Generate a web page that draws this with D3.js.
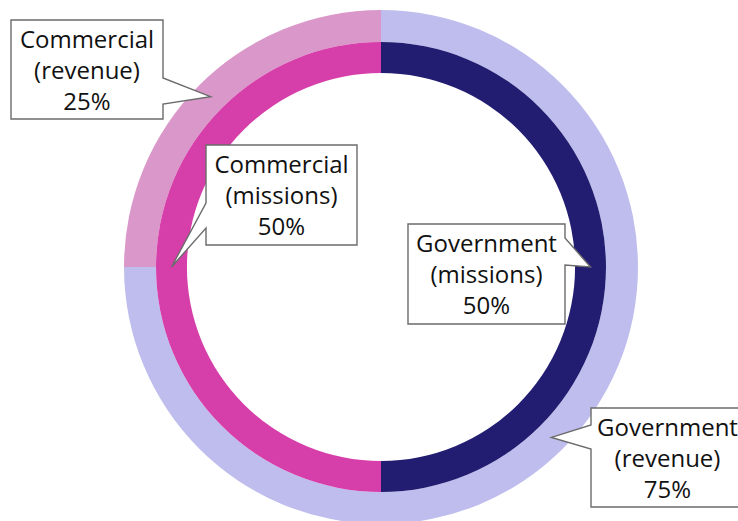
<!DOCTYPE html>
<html>
<head>
<meta charset="utf-8">
<script src="https://cdn.jsdelivr.net/npm/d3@7"></script>
<style>
  body { margin: 0; background: #fff; }
  svg { display: block; }
</style>
</head>
<body>
<svg id="drawing_region"></svg>
<script>
// ring data (outer ring = revenue, inner ring = missions)
const segments = ["Government", "Commercial"];
const revenue = [75, 25];
const missions = [50, 50];
const revenueColors = ["#bebded", "#da97c9"];
const missionColors = ["#231d72", "#d63eaa"];

const config = {
    parent: '#drawing_region',
    width: 738,
    height: 521,
    cx: 381,
    cy: 267,
    outer: {inner: 225, outer: 257},
    inner: {inner: 194, outer: 225}
};

// callout boxes: which ring/segment they point at, box geometry and which side the pointer leaves from
const callouts = [
    {ring: "revenue", index: 1, x: 11, y: 20, w: 152, h: 99, side: "right", b0: 58, b1: 84, label: "(revenue)"},
    {ring: "missions", index: 1, x: 206, y: 145, w: 151, h: 100, side: "left", b0: 58, b1: 83, label: "(missions)"},
    {ring: "missions", index: 0, x: 408, y: 224, w: 157, h: 100, side: "right", b0: 14, b1: 41, label: "(missions)"},
    {ring: "revenue", index: 0, x: 591, y: 408, w: 153, h: 99, side: "left", b0: 17, b1: 41, label: "(revenue)"}
];

const svg = d3.select(config.parent)
    .attr('width', config.width)
    .attr('height', config.height);

const chart = svg.append('g')
    .attr('transform', `translate(${config.cx}, ${config.cy})`);

const pie = d3.pie().sort(null).value(d => d);

const outerArc = d3.arc().innerRadius(config.outer.inner).outerRadius(config.outer.outer);
const innerArc = d3.arc().innerRadius(config.inner.inner).outerRadius(config.inner.outer);

const revenueArcs = pie(revenue);
const missionArcs = pie(missions);

chart.selectAll('path.revenue')
    .data(revenueArcs)
    .enter()
    .append('path')
    .attr('class', 'revenue')
    .attr('d', outerArc)
    .attr('fill', (d, i) => revenueColors[i]);

chart.selectAll('path.missions')
    .data(missionArcs)
    .enter()
    .append('path')
    .attr('class', 'missions')
    .attr('d', innerArc)
    .attr('fill', (d, i) => missionColors[i]);

// callouts
const tipOf = c => {
    const p = c.ring === "revenue"
        ? outerArc.centroid(revenueArcs[c.index])
        : innerArc.centroid(missionArcs[c.index]);
    return [p[0] + config.cx, p[1] + config.cy];
};

callouts.forEach(c => {
    const values = c.ring === "revenue" ? revenue : missions;
    const tip = tipOf(c);
    const x0 = c.x, x1 = c.x + c.w, y0 = c.y, y1 = c.y + c.h;
    let pts;
    if (c.side === "right") {
        pts = [[x0, y0], [x1, y0], [x1, y0 + c.b0], tip, [x1, y0 + c.b1], [x1, y1], [x0, y1]];
    } else {
        pts = [[x0, y0], [x1, y0], [x1, y1], [x0, y1], [x0, y0 + c.b1], tip, [x0, y0 + c.b0]];
    }
    const g = svg.append('g');
    g.append('path')
        .attr('d', d3.line()(pts) + 'Z')
        .attr('fill', 'white')
        .attr('stroke', '#6b6b6b')
        .attr('stroke-width', 1.4)
        .attr('stroke-linejoin', 'miter');

    const lines = [segments[c.index], c.label, values[c.index] + "%"];
    g.selectAll('text')
        .data(lines)
        .enter()
        .append('text')
        .attr('x', c.x + c.w / 2)
        .attr('y', (d, i) => c.y + 28 + i * 31)
        .attr('text-anchor', 'middle')
        .attr('font-family', '"Open Sans", sans-serif')
        .attr('font-size', '24px')
        .attr('fill', '#111')
        .text(d => d);
});
</script>
</body>
</html>
